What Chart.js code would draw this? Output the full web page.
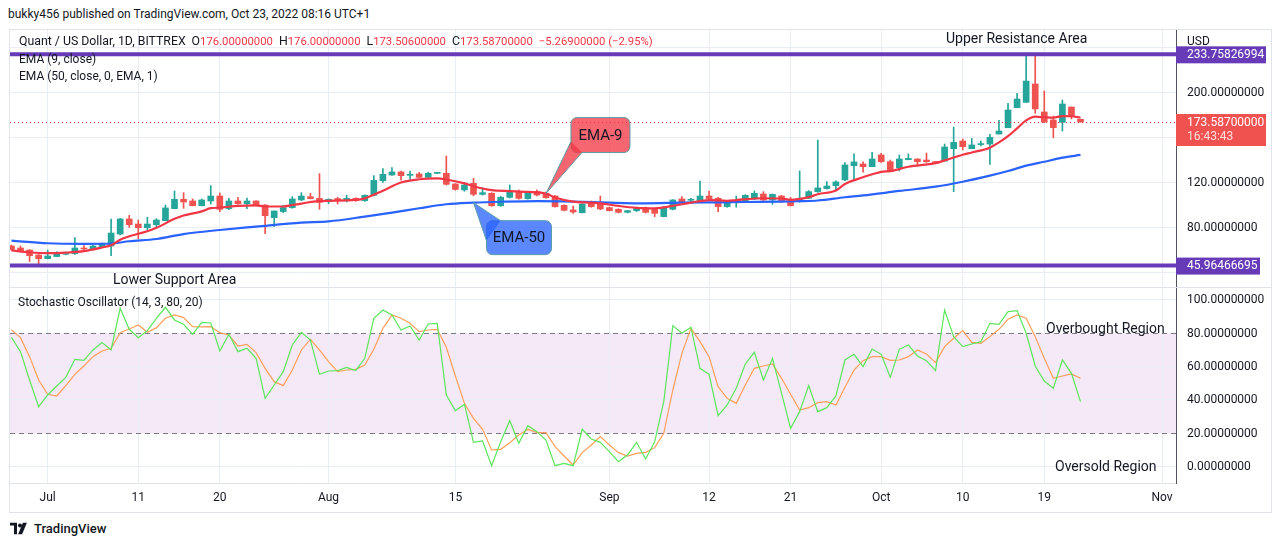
<!DOCTYPE html>
<html lang="en">

<head>
    <meta charset="UTF-8" />
    <title>Quant / US Dollar, 1D</title>
    <script src="https://cdn.jsdelivr.net/npm/chart.js"></script>
    <style>
        body {
            margin: 0;
            width: 1280px;
            height: 546px;
            background: #fff;
            position: relative;
            overflow: hidden;
            font-family: Roboto, "Liberation Sans", sans-serif;
            color: #131722;
        }

        .txt {
            position: absolute;
            white-space: nowrap;
            line-height: 1;
            transform: translateY(-50%);
            pointer-events: none;
        }

        .red { color: #f23645; font-size: 11.3px; }
        .gap { margin-left: 6px; }
        .note { font-size: 14px; }

        #frame {
            position: absolute;
            left: 9px;
            top: 29px;
            width: 1261px;
            height: 482px;
            border: 1px solid #e0e3eb;
        }

        #sep {
            position: absolute;
            left: 10px;
            top: 287px;
            width: 1261px;
            height: 1px;
            background: #e0e3eb;
        }

        canvas { position: absolute; }
    </style>
</head>

<body>
    <div class="txt" style="left:8px; top:14px; font-size:12px;">bukky456 published on TradingView.com, Oct 23, 2022 08:16 UTC+1</div>
    <div id="frame"></div>

    <canvas id="priceChart" width="1260" height="257" style="left:10px; top:30px;"></canvas>
    <div id="sep"></div>
    <canvas id="stochChart" width="1260" height="223" style="left:10px; top:288px;"></canvas>

    <!-- legends -->
    <div class="txt" style="left:19px; top:41px; font-size:12.3px;">Quant / US Dollar, 1D, BITTREX<span class="gap">O</span><span class="red">176.00000000</span><span class="gap">H</span><span class="red">176.00000000</span><span class="gap">L</span><span class="red">173.50600000</span><span class="gap">C</span><span class="red">173.58700000</span><span class="red gap">−5.26900000 (−2.95%)</span></div>
    <div class="txt" style="left:19px; top:59px; font-size:12px;">EMA (9, close)</div>
    <div class="txt" style="left:19px; top:76px; font-size:12px;">EMA (50, close, 0, EMA, 1)</div>
    <div class="txt" style="left:1187px; top:41px; font-size:12px;">USD</div>
    <div class="txt" style="left:18px; top:302px; font-size:12px;">Stochastic Oscillator (14, 3, 80, 20)</div>

    <!-- notes drawn on the chart -->
    <div class="txt note" style="left:946px; top:38px;">Upper Resistance Area</div>
    <div class="txt note" style="left:113px; top:279px;">Lower Support Area</div>
    <div class="txt note" style="left:1046px; top:328px;">Overbought Region</div>
    <div class="txt note" style="left:1055px; top:466px;">Oversold Region</div>

    <!-- footer logo -->
    <div class="txt" style="left:10px; top:528px; font-size:13px; font-weight:500; display:flex; align-items:center;">
        <svg width="20" height="12" viewBox="0 0 20 12" style="margin-right:4px;">
            <path d="M0 0h7v12H4V3H0z" fill="#131722" />
            <circle cx="10" cy="3" r="2" fill="#131722" />
            <path d="M13 0h4l-5 12H8z" fill="#131722" />
        </svg>TradingView
    </div>

    <script>
        // day numbers count from Jul 1 (= 0); first candle is Jun 27
        const firstDay = -4;

        const openP = [63.4, 61.6, 59.8, 55.4, 52.1, 54, 56, 56.6, 61.6, 61,
            62.8, 63.4, 74, 87.4, 82.9, 79.7, 82.3, 85.9, 96.6, 104.9,
            103.4, 99.2, 103.4, 107.8, 96.6, 103.4, 101, 103.4, 99.8, 88.6,
            94, 97.5, 104.3, 107.2, 105.7, 102.8, 105.5, 103.7, 105.7, 103.7,
            108.4, 121.4, 126.5, 129.2, 126.2, 127.4, 124.4, 128, 128, 118.5,
            113.2, 119.1, 109.3, 110.2, 99.2, 106.6, 111.7, 105.5, 111.7, 110.2,
            107.8, 99.5, 95.4, 93, 101.9, 101.3, 97.5, 96, 93.3, 94.8,
            97.5, 96, 89.5, 96, 105.2, 104, 103.7, 107.8, 105.8, 98.4,
            102.5, 103.7, 105.2, 109.6, 104.3, 107.8, 103.7, 102.8, 105.8, 111.7,
            114.4, 117, 122.1, 134.8, 136.3, 133.9, 144.3, 138.3, 133, 140.1,
            140.7, 139.8, 138.3, 138.9, 149.9, 156.7, 149.9, 153.5, 154, 162.9,
            168.5, 186.3, 191.1, 207.4, 182.5, 175.4, 173.3, 186.9, 176];
        const highP = [64.2, 63.4, 60.1, 55.8, 59.8, 58.3, 58, 70.8, 63.7, 64,
            66, 87.4, 88, 90.6, 86.5, 88.9, 87.7, 99.8, 112.3, 110.8,
            105.2, 105.2, 117, 110.5, 105.8, 106.6, 106, 103.6, 100.3, 94.5,
            99.5, 107.2, 110.8, 110.2, 127.7, 105.2, 106.6, 108.4, 106.3, 108.9,
            125.9, 132.1, 133, 130, 130, 128.9, 129, 128.6, 143.4, 118.9,
            119.7, 123.5, 115.2, 110.8, 107.5, 117.6, 113.2, 112, 113.2, 111.4,
            108.5, 100, 98.9, 101, 103.4, 107.8, 98, 96.5, 95, 98,
            98, 96.5, 98.4, 104.6, 107.2, 105.8, 121.1, 112.3, 106.6, 101.6,
            107.8, 109, 112.3, 111.7, 109.6, 108.5, 106.6, 130.1, 112.6, 157.6,
            120.6, 121.2, 137.5, 145.2, 138.3, 146.6, 145.7, 139.8, 144.3, 145.2,
            141, 146, 138.5, 154, 169.1, 158.5, 159, 156.7, 162.6, 175.1,
            190.2, 199, 234.9, 233.2, 201.2, 178.9, 193.1, 187, 176];
        const lowP = [59.5, 58.6, 49.5, 46.5, 52, 53.8, 55.5, 56, 59, 60.5,
            62, 54.8, 73.2, 80, 69.9, 77.6, 79.7, 85.9, 96.6, 96.9,
            99, 99, 100.7, 93.9, 95.7, 100.4, 96.6, 99, 74.3, 80.6,
            93, 96.9, 103.7, 105.2, 96, 101, 100.7, 102.5, 103, 103,
            107.8, 120, 126.2, 122, 122.6, 124.1, 124, 127.7, 117.5, 113,
            112, 108, 108.6, 98.6, 98.6, 106, 105, 105, 108, 105.8,
            97.8, 94.5, 92.4, 92.7, 97.8, 95.5, 94.5, 92.7, 92.7, 94,
            92.7, 89.5, 89.2, 95.5, 102.2, 102.2, 103, 104.3, 93.9, 97.8,
            97.8, 103.4, 104.6, 103.4, 100.4, 102.2, 98.9, 102.2, 105.5, 111,
            114, 112.3, 121.5, 122.1, 128.9, 133.9, 137.7, 129.4, 130.1, 140,
            135.4, 137.7, 137, 138.9, 111.7, 148.7, 149.9, 152.3, 135.9, 162.9,
            168.5, 186.3, 191.1, 181.3, 173, 159.6, 165.6, 176.3, 173.506];
        const closeP = [60.4, 59.2, 54.8, 52.1, 54.5, 56.9, 57.5, 61.6, 60.7, 63.4,
            65.2, 74.9, 87.4, 82.3, 79.7, 82.9, 86.5, 97.2, 104.9, 102.5,
            99.2, 104.3, 107.8, 96, 103.4, 101, 103.4, 99.8, 90.3, 94.5,
            97.5, 105.2, 107.8, 105.5, 102.2, 104.9, 103.7, 105.7, 103.7, 108.4,
            121.7, 127.1, 129.2, 125.9, 127.1, 124.4, 128, 128.3, 118.2, 113.7,
            117.6, 109.3, 110.8, 99.2, 106.6, 111.1, 105.7, 110.8, 108.7, 106.3,
            98.3, 95.1, 93.6, 100.7, 98.4, 96.3, 94.8, 93.3, 94.8, 97.5,
            93.3, 92.4, 97.8, 104.3, 102.8, 104.4, 107.8, 105.5, 98.4, 101.3,
            103, 108.4, 110.2, 104.3, 109.3, 102.8, 99.2, 105.8, 111.7, 115,
            116.7, 120.3, 135.4, 138.1, 133.9, 140.7, 138.3, 130, 140.7, 141.2,
            138.3, 138.3, 137.5, 151.4, 155.5, 151.7, 153.2, 153.9, 159.9, 165.6,
            184.3, 194, 210, 185.2, 173.6, 168.6, 189.6, 179.2, 173.587];

        // EMA readings (day, value)
        const ema9Days = [-4, -2, 0, 2, 4, 6, 7, 8, 9, 11, 12, 14, 15, 17, 18, 19, 21, 23, 24, 26,
            27, 30, 34, 35, 37, 39, 41, 43, 44, 46, 47, 49, 51, 53, 55, 56, 58, 60, 61, 63,
            65, 67, 69, 71, 73, 75, 76, 79, 81, 82, 84, 85, 87, 88, 90, 92, 93, 95, 98, 99,
            101, 102, 104, 105, 106, 107, 108, 109, 110, 111, 112, 113, 114];
        const ema9Vals = [59.5, 57.8, 57, 57.5, 58.8, 62, 64, 69, 72, 76.5, 79.5, 87.5, 90.5, 94.2, 97, 97.5, 99, 99.5, 98.5, 98.5,
            99.8, 103.2, 104.3, 105.7, 112.5, 119.8, 122.7, 123.5, 122.5, 119, 116.5, 113, 112.2, 111.5, 110, 106.5, 102.8, 101.9, 101.3, 99,
            97.3, 96.9, 99, 102, 104.2, 103.5, 104.2, 105.8, 105.6, 104.4, 106.8, 109.4, 112.8, 118.5, 124.5, 129.3, 130, 133.8, 137, 139.5,
            144.5, 146.5, 150.8, 155.5, 161, 168, 175, 178.3, 177.8, 177.4, 178.8, 178.7, 177.4];
        const ema50Days = [-4, 0, 4, 7, 9, 12, 15, 19, 23, 28, 31, 35, 38, 41, 44, 47, 50, 54, 58, 62,
            66, 70, 74, 77, 81, 83, 85, 88, 90, 94, 98, 101, 104, 106, 108, 110, 112, 114];
        const ema50Vals = [68.1, 65.8, 65.3, 65.6, 67.6, 69.6, 74, 77.6, 80.6, 84.2, 85.3, 89.5, 93, 96.9, 100.5, 101.9, 102.7, 103.3, 102.9, 101.9,
            101.3, 101.9, 102.2, 102.5, 102.8, 103.2, 103.8, 106.7, 108.3, 112.3, 116.1, 120.5, 125.9, 130, 134.8, 138.3, 141.9, 144.3];

        // Stochastic %K and %D, one value per candle
        const stochK = [77.6, 69, 52, 36, 43, 48.4, 53.6, 64.4, 63.8, 70,
            74.4, 70, 95, 82.4, 77.4, 81.6, 89, 95.6, 88, 85.4,
            79.4, 86.6, 86.2, 69.4, 79.4, 69, 71, 65, 41, 49,
            57, 73, 80.6, 76, 55.4, 57.4, 57.6, 59.6, 57.6, 65,
            89, 94, 91, 82, 84.4, 76, 85.6, 86, 43, 33.6,
            37.4, 14.6, 15.4, 0.6, 15, 27.6, 14, 24.6, 21, 16,
            0.6, 2, 0.6, 22.4, 16.6, 14.6, 9, 3, 7, 14.6,
            4.6, 15, 39, 84.6, 80, 83.6, 59, 55.4, 30.6, 37,
            47, 61.6, 68.6, 52, 65, 44, 23, 33, 48.6, 33,
            35.4, 42.4, 64, 67.4, 60, 70.6, 67.4, 53.6, 70.4, 73,
            66.4, 63.6, 57.6, 94, 78, 72, 73.6, 75, 86, 85.4,
            93, 93.6, 80, 60.4, 51.4, 47, 64, 56, 39];
        const stochD = [82, 77.4, 66, 52, 43.4, 42.4, 48.6, 55.4, 60.4, 66,
            69.4, 71, 80.4, 82.6, 85, 80.6, 83.4, 89, 91, 89.4,
            84, 83.8, 84, 80.4, 79, 72.4, 73.4, 68.4, 59, 51,
            48.6, 58, 70, 76.4, 70, 63, 57, 58, 58.4, 61,
            70.4, 83, 91, 89, 86, 81, 82, 82.4, 71.6, 54.4,
            38, 29, 22.4, 10, 10.4, 14.4, 19, 22.4, 20.4, 20.4,
            12, 6.4, 1, 8.4, 13, 18, 13, 8.4, 6.4, 8,
            8.6, 11.4, 20, 46, 68, 83, 75, 66, 48, 41,
            38, 49, 59, 60.4, 61.6, 53, 43.4, 34, 35.4, 38.4,
            39, 37, 47.6, 58, 63.6, 66, 66, 63.8, 64, 66,
            70, 67.6, 62.4, 72, 77, 81.6, 74.6, 74, 78, 82.4,
            88.4, 91, 89, 78, 65, 53, 54.4, 55.6, 53];

        const tickDays = [0, 10, 19, 31, 45, 62, 73, 82, 92, 101, 110, 123];
        const tickLabels = ['Jul', '11', '20', 'Aug', '15', 'Sep', '12', '21', 'Oct', '10', '19', 'Nov'];
        const priceTicks = [40, 80, 120, 160, 200, 240];
        const priceLabelsShown = [80, 120, 200];
        const stochTicks = [0, 20, 40, 60, 80, 100];

        const resistance = 233.75826994;
        const support = 45.96466695;
        const lastClose = 173.587;
        const countdown = '16:43:43';
        const ema9Callout = 55;   // day the EMA-9 note points at
        const ema50Callout = 47;  // day the EMA-50 note points at

        const GRID = '#e9eef4';
        const FAMILY = 'Roboto, "Liberation Sans", sans-serif';
        const AXIS_FONT = { family: FAMILY, size: 12 };
        const X_MIN = -4.16, X_MAX = 124.54;

        const dayOf = i => firstDay + i;
        const candleColor = closeP.map((c, i) => c >= openP[i] ? '#26a69a' : '#ef5350');
        const bodies = openP.map((o, i) => ({ x: dayOf(i), y: [o, closeP[i]] }));
        const wicks = lowP.map((l, i) => ({ x: dayOf(i), y: [l, highP[i]] }));
        const ema9 = ema9Days.map((d, i) => ({ x: d, y: ema9Vals[i] }));
        const ema50 = ema50Days.map((d, i) => ({ x: d, y: ema50Vals[i] }));
        const kLine = stochK.map((v, i) => ({ x: dayOf(i), y: v }));
        const dLine = stochD.map((v, i) => ({ x: dayOf(i), y: v }));

        function xAxis(showLabels) {
            return {
                type: 'linear', min: X_MIN, max: X_MAX, offset: false,
                afterBuildTicks: s => { s.ticks = tickDays.map(v => ({ value: v })); },
                afterFit: s => { s.height = showLabels ? 28 : 0; },
                grid: { color: GRID, drawTicks: false, offset: false },
                border: { display: showLabels, color: '#e0e3eb' },
                ticks: {
                    display: showLabels, autoSkip: false, maxRotation: 0, padding: 8,
                    color: '#131722', font: AXIS_FONT,
                    callback: (v, i) => tickLabels[i]
                }
            };
        }

        // right price scale: labels are painted by the plugin so the scale adds no padding
        function yAxis(min, max, ticks, gridColor) {
            return {
                type: 'linear', position: 'right', min: min, max: max,
                afterBuildTicks: s => { s.ticks = ticks.map(v => ({ value: v })); },
                afterFit: s => { s.width = 94; },
                grid: { color: gridColor, drawTicks: false },
                border: { color: '#50535e' },
                ticks: { display: false }
            };
        }

        function drawAxisLabels(chart, values) {
            const { ctx, chartArea: a, scales: { y } } = chart;
            ctx.save();
            ctx.fillStyle = '#131722';
            ctx.font = '12px ' + FAMILY;
            ctx.textAlign = 'left';
            ctx.textBaseline = 'middle';
            values.forEach(v => ctx.fillText(v.toFixed(8), a.right + 11, y.getPixelForValue(v) + 0.5));
            ctx.restore();
        }

        function roundRect(ctx, x, y, w, h, r) {
            ctx.beginPath();
            ctx.moveTo(x + r, y);
            ctx.arcTo(x + w, y, x + w, y + h, r);
            ctx.arcTo(x + w, y + h, x, y + h, r);
            ctx.arcTo(x, y + h, x, y, r);
            ctx.arcTo(x, y, x + w, y, r);
            ctx.closePath();
        }

        function callout(ctx, tip, box, base, fill, label) {
            ctx.save();
            ctx.fillStyle = fill;
            ctx.strokeStyle = '#5a9ea6';
            ctx.lineWidth = 1;
            roundRect(ctx, box.x, box.y, box.w, box.h, 6);
            ctx.fill();
            ctx.stroke();
            ctx.beginPath();
            ctx.moveTo(base[0][0], base[0][1]);
            ctx.lineTo(tip.x, tip.y);
            ctx.lineTo(base[1][0], base[1][1]);
            ctx.closePath();
            ctx.fill();
            ctx.beginPath();
            ctx.moveTo(base[0][0], base[0][1]);
            ctx.lineTo(tip.x, tip.y);
            ctx.lineTo(base[1][0], base[1][1]);
            ctx.stroke();
            ctx.fillStyle = '#131722';
            ctx.font = '15px ' + FAMILY;
            ctx.textAlign = 'center';
            ctx.textBaseline = 'middle';
            ctx.fillText(label, box.x + box.w / 2, box.y + box.h / 2 + 1);
            ctx.restore();
        }

        function badge(ctx, x, y, w, h, fill, lines) {
            ctx.fillStyle = fill;
            ctx.fillRect(x, y, w, h);
            ctx.font = '12px ' + FAMILY;
            ctx.textAlign = 'left';
            ctx.textBaseline = 'middle';
            lines.forEach(l => {
                ctx.fillStyle = l.color;
                ctx.fillText(l.text, x + 11, l.y);
            });
        }

        const priceOverlay = {
            id: 'priceOverlay',
            afterDatasetsDraw(chart) {
                const { ctx, chartArea: a, scales: { x, y } } = chart;
                ctx.save();
                // support / resistance
                ctx.strokeStyle = '#673ab7';
                ctx.lineWidth = 4;
                [resistance, support].forEach(v => {
                    const py = y.getPixelForValue(v);
                    ctx.beginPath();
                    ctx.moveTo(a.left, py);
                    ctx.lineTo(a.right, py);
                    ctx.stroke();
                });
                // last price
                const lp = y.getPixelForValue(lastClose);
                ctx.strokeStyle = '#f23645';
                ctx.lineWidth = 1;
                ctx.setLineDash([1, 3]);
                ctx.beginPath();
                ctx.moveTo(a.left, Math.round(lp) + 0.5);
                ctx.lineTo(a.right, Math.round(lp) + 0.5);
                ctx.stroke();
                ctx.setLineDash([]);
                ctx.restore();

                const i9 = ema9Days.indexOf(ema9Callout);
                const t9 = { x: x.getPixelForValue(ema9Callout), y: y.getPixelForValue(ema9Vals[i9]) };
                callout(ctx, t9, { x: t9.x + 25, y: t9.y - 76, w: 59, h: 35 },
                    [[t9.x + 25, t9.y - 52], [t9.x + 36, t9.y - 41]], 'rgba(242,54,69,0.76)', 'EMA-9');

                const i50 = ema50Days.indexOf(ema50Callout);
                const t50 = { x: x.getPixelForValue(ema50Callout), y: y.getPixelForValue(ema50Vals[i50]) };
                callout(ctx, t50, { x: t50.x + 13, y: t50.y + 18, w: 65, h: 34 },
                    [[t50.x + 13, t50.y + 38], [t50.x + 27, t50.y + 18]], 'rgba(41,98,255,0.76)', 'EMA-50');
            },
            afterDraw(chart) {
                const { ctx, chartArea: a, scales: { y } } = chart;
                drawAxisLabels(chart, priceLabelsShown);
                ctx.save();
                const ry = y.getPixelForValue(resistance);
                badge(ctx, a.right, ry - 8, 90, 17, '#673ab7',
                    [{ text: resistance.toFixed(8), y: ry + 0.5, color: '#fff' }]);
                const sy = y.getPixelForValue(support);
                badge(ctx, a.right, sy - 8, 84, 17, '#673ab7',
                    [{ text: support.toFixed(8), y: sy + 0.5, color: '#fff' }]);
                const lp = y.getPixelForValue(lastClose);
                badge(ctx, a.right, lp - 8, 90, 32, '#f0524f', [
                    { text: lastClose.toFixed(8), y: lp + 0.5, color: '#fff' },
                    { text: countdown, y: lp + 15, color: 'rgba(255,255,255,0.8)' }]);
                ctx.restore();
            }
        };

        const stochBand = {
            id: 'stochBand',
            beforeDraw(chart) {
                const { ctx, chartArea: a, scales: { y } } = chart;
                const y80 = y.getPixelForValue(80), y20 = y.getPixelForValue(20);
                ctx.save();
                ctx.fillStyle = 'rgba(156,39,176,0.1)';
                ctx.fillRect(a.left, y80, a.right - a.left, y20 - y80);
                ctx.restore();
            },
            beforeDatasetsDraw(chart) {
                const { ctx, chartArea: a, scales: { y } } = chart;
                ctx.save();
                ctx.strokeStyle = '#787b86';
                ctx.lineWidth = 1;
                ctx.setLineDash([5, 4]);
                [80, 20].forEach(v => {
                    const py = Math.round(y.getPixelForValue(v)) + 0.5;
                    ctx.beginPath();
                    ctx.moveTo(a.left, py);
                    ctx.lineTo(a.right, py);
                    ctx.stroke();
                });
                ctx.restore();
            },
            afterDraw(chart) {
                drawAxisLabels(chart, stochTicks);
            }
        };

        Chart.defaults.font.family = FAMILY;
        Chart.defaults.animation = false;

        new Chart(document.getElementById('priceChart'), {
            type: 'bar',
            data: {
                datasets: [
                    { type: 'line', label: 'EMA 9', data: ema9, borderColor: '#f23645', borderWidth: 2.2, pointRadius: 0, cubicInterpolationMode: 'monotone', order: 0 },
                    { type: 'line', label: 'EMA 50', data: ema50, borderColor: '#2962ff', borderWidth: 2.2, pointRadius: 0, cubicInterpolationMode: 'monotone', order: 1 },
                    { label: 'body', data: bodies, backgroundColor: candleColor, barThickness: 6, minBarLength: 1, grouped: false, order: 2 },
                    { label: 'wick', data: wicks, backgroundColor: candleColor, barThickness: 1, grouped: false, order: 3 }
                ]
            },
            options: {
                responsive: false,
                events: [],
                layout: { padding: 0 },
                plugins: { legend: { display: false }, tooltip: { enabled: false } },
                scales: {
                    x: xAxis(false),
                    y: yAxis(26.93, 255.38, priceTicks, GRID)
                }
            },
            plugins: [priceOverlay]
        });

        new Chart(document.getElementById('stochChart'), {
            type: 'line',
            data: {
                datasets: [
                    { label: '%K', data: kLine, borderColor: '#5ce65c', borderWidth: 1.2, pointRadius: 0, tension: 0, order: 0 },
                    { label: '%D', data: dLine, borderColor: '#ff9f5a', borderWidth: 1.2, pointRadius: 0, tension: 0, order: 1 }
                ]
            },
            options: {
                responsive: false,
                events: [],
                layout: { padding: 0 },
                plugins: { legend: { display: false }, tooltip: { enabled: false } },
                scales: {
                    x: xAxis(true),
                    y: yAxis(-9.8, 107.18, stochTicks,
                        c => (c.tick && (c.tick.value === 20 || c.tick.value === 80)) ? 'rgba(0,0,0,0)' : GRID)
                }
            },
            plugins: [stochBand]
        });
    </script>
</body>

</html>
